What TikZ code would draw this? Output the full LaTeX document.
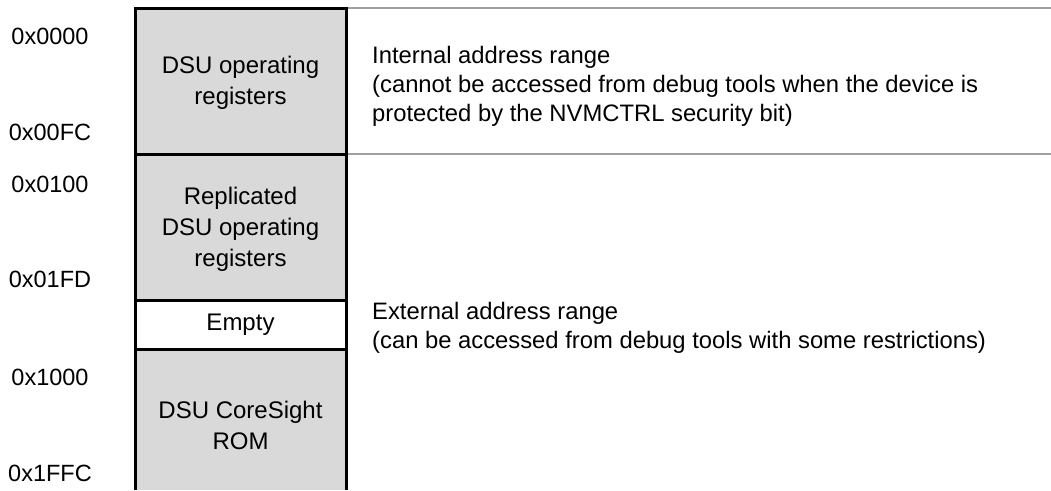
\documentclass[tikz,border=0pt]{standalone}
\usepackage{fontspec}
\setmainfont{Liberation Sans}
\definecolor{boxgray}{HTML}{D9D9D9}
\definecolor{rulegray}{HTML}{A0A0A0}
\begin{document}
\begin{tikzpicture}[x=1pt,y=-1pt,
  frame/.style={line width=3pt, black},
  rulex/.style={line width=1.3pt, rulegray},
  addr/.style={font=\fontsize{23.5}{28.5}\selectfont, inner sep=0pt, anchor=center},
  boxtext/.style={font=\fontsize{24}{31}\selectfont, align=center, inner sep=0pt, anchor=center},
  desc/.style={font=\fontsize{23.8}{29}\selectfont, align=left, inner sep=0pt, anchor=west}]
\useasboundingbox (0,0) rectangle (1051,490);
\fill[white] (0,0) rectangle (1051,490);
% filled regions
\fill[boxgray] (135.5,8.5) rectangle (346,154);
\fill[boxgray] (135.5,154) rectangle (346,300);
\fill[boxgray] (135.5,349) rectangle (346,490);
% frame
\draw[frame] (135.5,490) -- (135.5,8.5) -- (346,8.5) -- (346,490);
\draw[frame] (135.5,154) -- (346,154);
\draw[frame] (135.5,300) -- (346,300);
\draw[frame] (135.5,349) -- (346,349);
% gray rules
\draw[rulex] (347.5,8) -- (1051,8);
\draw[rulex] (347.5,154) -- (1051,154);
% box texts
\node[boxtext] (dsu) at (240.5,83) {DSU operating\\registers};
\node[boxtext] (rep) at (240.5,229.5) {Replicated\\DSU operating\\registers};
\node[boxtext] (empty) at (240.5,325) {Empty};
\node[boxtext] (rom) at (240.5,425) {DSU CoreSight\\ROM};
% addresses
\node[addr] (a0) at (50,36.5) {0x0000};
\node[addr] (a1) at (50,132.5) {0x00FC};
\node[addr] (a2) at (50,184) {0x0100};
\node[addr] (a3) at (50,279) {0x01FD};
\node[addr] (a4) at (50,377) {0x1000};
\node[addr] (a5) at (50,473) {0x1FFC};
% descriptions
\node[desc] (int) at (372,86) {Internal address range\\(cannot be accessed from debug tools when the device is\\protected by the NVMCTRL security bit)};
\node[desc] (ext) at (372,328) {External address range\\(can be accessed from debug tools with some restrictions)};
\end{tikzpicture}
\end{document}
